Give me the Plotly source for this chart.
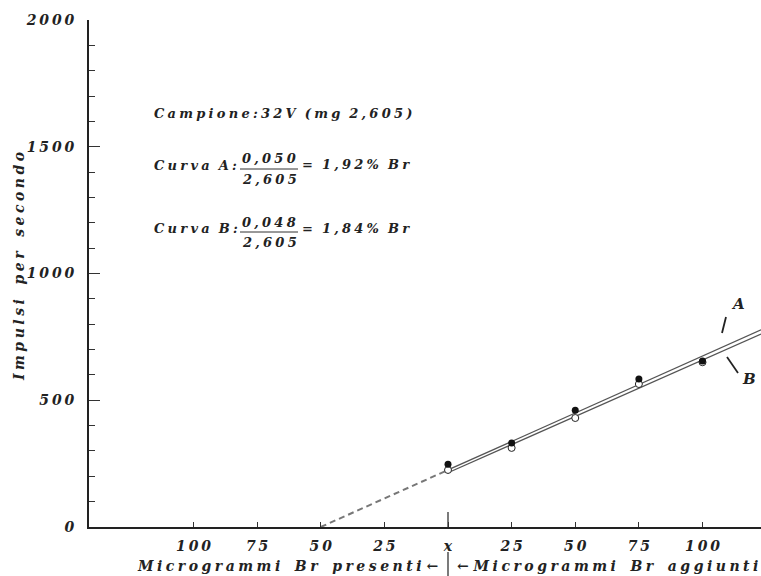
import plotly.graph_objects as go

# ---- data ----
x_added = [0, 25, 50, 75, 100]
curve_A_pts = [248, 331, 461, 584, 655]      # filled points
curve_B_pts = [225, 312, 430, 564, 650]      # open points
line_A_x = [0, 123]
line_A_y = [225, 778]
line_B_x = [0, 123]
line_B_y = [214, 761]
extrap_x = [-50, 0]
extrap_y = [0, 225]
x_tickvals = [-100, -75, -50, -25, 0, 25, 50, 75, 100]
x_ticktext = ["100", "75", "50", "25", "x", "25", "50", "75", "100"]
y_tickvals = [0, 500, 1000, 1500, 2000]
y_ticktext = ["0", "500", "1000", "1500", "2000"]

FONT = "DejaVu Serif"
G = "\u2005"   # letter gap
W = "\u00a0\u00a0"  # word gap


def sp(s, gap=G, w=W):
    words = s.split(" ")
    return w.join(gap.join(list(w_)) for w_ in words)


# plot area in pixels
L, R, T, B = 89, 0, 20, 49
WIDTH, HEIGHT = 761, 576
PW, PH = WIDTH - L - R, HEIGHT - T - B


def px(xp):
    return (xp - L) / PW


def py(yp):
    return (HEIGHT - B - yp) / PH


fig = go.Figure()

fig.add_trace(go.Scatter(x=extrap_x, y=extrap_y, mode="lines",
                         line=dict(color="#777", width=2, dash="6px,4px"),
                         showlegend=False, hoverinfo="skip"))
fig.add_trace(go.Scatter(x=line_A_x, y=line_A_y, mode="lines",
                         line=dict(color="#555", width=1.3), showlegend=False))
fig.add_trace(go.Scatter(x=line_B_x, y=line_B_y, mode="lines",
                         line=dict(color="#555", width=1.3), showlegend=False))
fig.add_trace(go.Scatter(x=x_added, y=curve_B_pts, mode="markers",
                         marker=dict(size=7, color="white", line=dict(color="#222", width=1)),
                         showlegend=False))
fig.add_trace(go.Scatter(x=x_added, y=curve_A_pts, mode="markers",
                         marker=dict(size=7, color="#111"),
                         showlegend=False))

tfont = dict(family=FONT, size=14, color="#222", weight="bold", style="italic")
afont = dict(family=FONT, size=13, color="#222", weight="bold", style="italic")

fig.update_xaxes(range=[(L - 448) / 2.545, (WIDTH - 448) / 2.545],
                 tickvals=x_tickvals, ticktext=[sp(t, "\u2009") for t in x_ticktext],
                 ticks="inside", ticklen=5, tickwidth=1.2, tickcolor="#333",
                 showline=True, linecolor="#222", linewidth=2,
                 showgrid=False, zeroline=False, tickfont=tfont,
                 ticklabelstandoff=5)
fig.update_yaxes(range=[0, 2000], tickvals=y_tickvals,
                 ticktext=[sp(t, "\u2009") for t in y_ticktext],
                 ticks="inside", ticklen=11, tickwidth=1.2, tickcolor="#333",
                 minor=dict(dtick=100, ticks="inside", ticklen=6, tickcolor="#333", tickwidth=1),
                 showline=True, linecolor="#222", linewidth=2,
                 showgrid=False, zeroline=False, tickfont=tfont,
                 ticklabelstandoff=10)

ann = []


def text(xp, yp, s, xanchor="left", font=afont, angle=0):
    ann.append(dict(x=px(xp), y=py(yp), xref="paper", yref="paper", text=s,
                    showarrow=False, xanchor=xanchor, yanchor="middle",
                    font=font, textangle=angle))


text(152, 113, sp("Campione:32V (mg 2,605)"))
text(152, 165, sp("Curva A:"))
text(240, 159, sp("0,050"))
text(240, 179, sp("2,605"))
text(300, 164, sp("= 1,92% Br"))
text(152, 228, sp("Curva B:"))
text(240, 222, sp("0,048"))
text(240, 242, sp("2,605"))
text(300, 228, sp("= 1,84% Br"))

W3 = "\u00a0\u00a0\u00a0"
text(19, 267, sp("Impulsi per secondo", G, W3), xanchor="center", font=tfont, angle=-90)
text(440, 566, sp("Microgrammi Br presenti", G, W3) + "\u00a0\u2190", xanchor="right", font=tfont)
text(455, 566, "\u2190\u00a0" + sp("Microgrammi Br aggiunti", G, W3), xanchor="left", font=tfont)

text(738, 304, "A", xanchor="center", font=dict(tfont, size=15))
text(749, 379, "B", xanchor="center", font=dict(tfont, size=15))

shapes = [
    dict(type="line", xref="paper", yref="paper", x0=px(240), x1=px(298), y0=py(169), y1=py(169),
         line=dict(color="#333", width=1)),
    dict(type="line", xref="paper", yref="paper", x0=px(240), x1=px(298), y0=py(232), y1=py(232),
         line=dict(color="#333", width=1)),
    # x marker tick taller
    dict(type="line", xref="x", yref="paper", x0=0, x1=0, y0=0, y1=py(512),
         line=dict(color="#333", width=1.3)),
    # separator below axis
    dict(type="line", xref="x", yref="paper", x0=0, x1=0, y0=py(552), y1=py(576),
         line=dict(color="#333", width=1.3)),
    # pointer lines
    dict(type="line", xref="paper", yref="paper", x0=px(722), x1=px(726), y0=py(333), y1=py(317),
         line=dict(color="#222", width=1.8)),
    dict(type="line", xref="paper", yref="paper", x0=px(727), x1=px(738), y0=py(357), y1=py(373),
         line=dict(color="#222", width=1.8)),
]

fig.update_layout(width=WIDTH, height=HEIGHT,
                  margin=dict(l=L, r=R, t=T, b=B),
                  paper_bgcolor="white", plot_bgcolor="white",
                  annotations=ann, shapes=shapes, showlegend=False)

fig.write_html("out.html", config={"displayModeBar": False},
               post_script="document.body.style.margin='0';")
